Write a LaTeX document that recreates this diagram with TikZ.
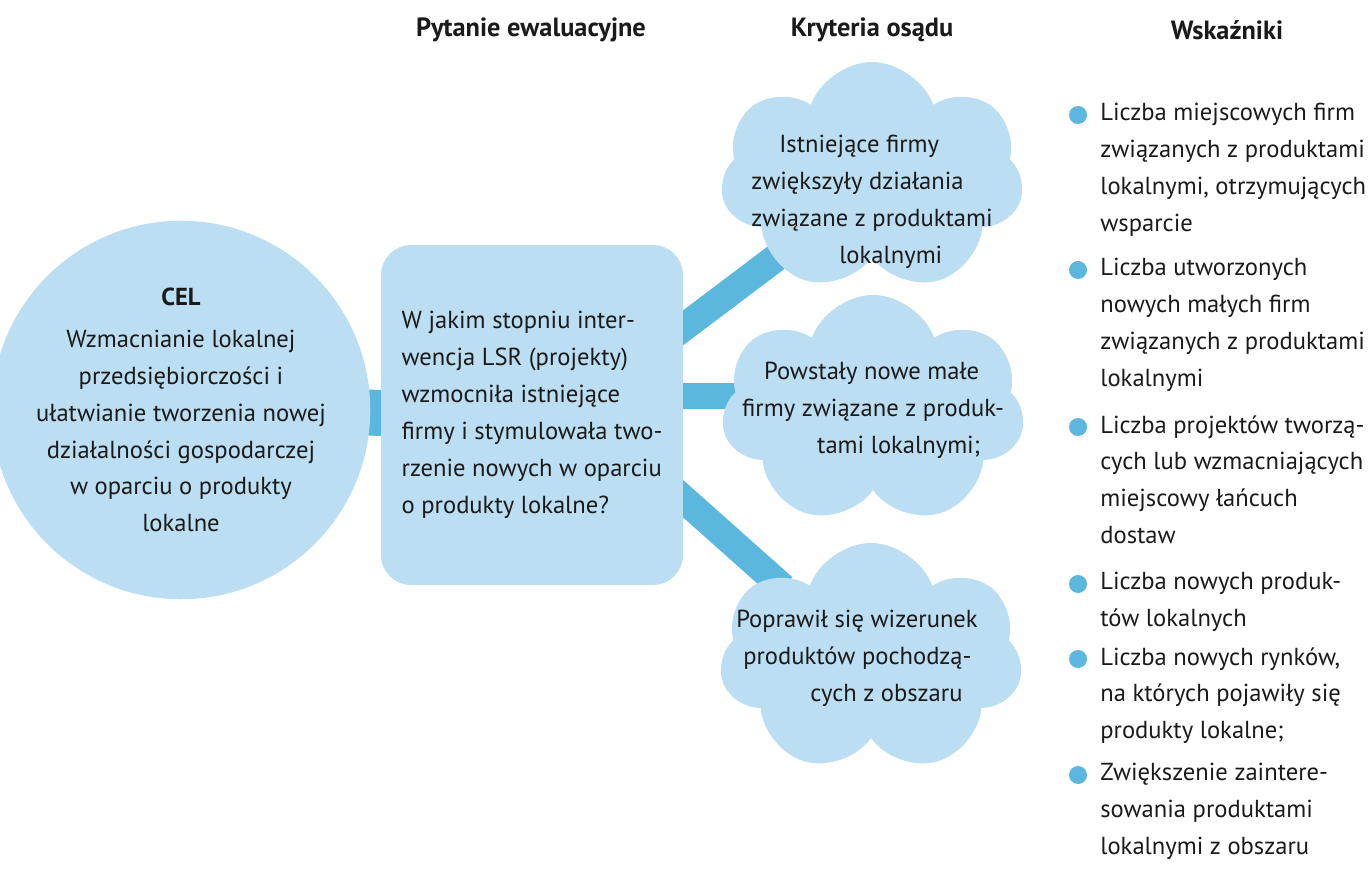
\documentclass[tikz,border=0pt]{standalone}
\usepackage{fontspec}
\setmainfont{PT Sans}
\usetikzlibrary{shapes.symbols,backgrounds}

\definecolor{paleblue}{HTML}{BBDEF2}
\definecolor{linkblue}{HTML}{5BB7DE}
\definecolor{inktext}{HTML}{1A1A1A}

\tikzset{
  goal/.style={circle, fill=paleblue, minimum size=6.8cm, inner sep=0pt, align=center},
  question/.style={rectangle, rounded corners=0.6cm, fill=paleblue, minimum width=6.04cm, minimum height=6.8cm, align=left, inner sep=0pt},
  criterion/.style={cloud, cloud puffs=7, cloud puff arc=140, fill=paleblue, minimum width=6.06cm, minimum height=4.6cm, inner sep=0pt},
  crittext/.style={align=left, inner sep=0pt},
  link/.style={linkblue, line width=#1, shorten <=-0.3cm, shorten >=-0.3cm},
  heading/.style={font=\bfseries\fontsize{15}{18}\selectfont},
  bullet/.style={circle, fill=linkblue, minimum size=0.36cm, inner sep=0pt},
  indicator/.style={anchor=north west, align=left, inner sep=0pt}
}

\begin{document}
\begin{tikzpicture}[x=0.02cm, y=-0.02cm, font=\fontsize{14}{21}\selectfont, text=inktext]
  \useasboundingbox (0,0) rectangle (1372,871);

  % column headings
  \node[heading] (h1) at (531,30) {Pytanie ewaluacyjne};
  \node[heading] (h2) at (872,30) {Kryteria osądu};
  \node[heading] (h3) at (1227,30) {Wskaźniki};

  % goal and question
  \node[goal] (cel) at (181,410) {\textbf{CEL}\\[0.1cm]
    Wzmacnianie lokalnej\\ przedsiębiorczości i\\ ułatwianie tworzenia nowej\\
    działalności gospodarczej\\ w oparciu o produkty\\ lokalne};
  \node[question] (pyt) at (532,415) {W jakim stopniu inter-\\ wencja LSR (projekty)\\
    wzmocniła istniejące\\ firmy i stymulowała two-\\ rzenie nowych w oparciu\\
    o produkty lokalne?};

  % criteria clouds
  \node[criterion] (crit1) at (872,177) {};
  \node[criterion] (crit2) at (873,410) {};
  \node[criterion] (crit3) at (871,658) {};
  \node[crittext] (t1) at ([yshift=-0.5cm]crit1.center) {\hspace*{0.56cm}Istniejące firmy\\
    zwiększyły działania\\ związane z produktami\\ \hspace*{1.76cm}lokalnymi};
  \node[crittext] (t2) at (crit2.center) {\hspace*{0.44cm}Powstały nowe małe\\
    firmy związane z produk-\\ \hspace*{1.5cm}tami lokalnymi;};
  \node[crittext] (t3) at ([xshift=-0.28cm]crit3.center) {Poprawił się wizerunek\\
    \hspace*{0.14cm}produktów pochodzą-\\ \hspace*{1.48cm}cych z obszaru};

  % connectors behind the shapes
  \begin{scope}[on background layer]
    \draw[link=0.92cm] (cel) -- (pyt);
    \draw[link=0.56cm] (pyt.30) -- (crit1.220);
    \draw[link=0.52cm] (pyt.7) -- (pyt.7 -| crit2.west);
    \draw[link=0.56cm] (pyt.-29) -- (crit3.141);
  \end{scope}

  % indicators
  \node[bullet] (d1) at (1078,115) {};
  \node[indicator] (w1) at (1100,103) {Liczba miejscowych firm\\ związanych z produktami\\
    lokalnymi, otrzymujących\\ wsparcie};
  \node[bullet] (d2) at (1078,270) {};
  \node[indicator] (w2) at (1100,258) {Liczba utworzonych\\ nowych małych firm\\
    związanych z produktami\\ lokalnymi};
  \node[bullet] (d3) at (1078,427) {};
  \node[indicator] (w3) at (1100,415) {Liczba projektów tworzą-\\ cych lub wzmacniających\\
    miejscowy łańcuch\\ dostaw};
  \node[bullet] (d4) at (1078,584) {};
  \node[indicator] (w4) at (1100,572) {Liczba nowych produk-\\ tów lokalnych};
  \node[bullet] (d5) at (1078,659) {};
  \node[indicator] (w5) at (1100,647) {Liczba nowych rynków,\\ na których pojawiły się\\
    produkty lokalne;};
  \node[bullet] (d6) at (1078,775) {};
  \node[indicator] (w6) at (1100,763) {Zwiększenie zaintere-\\ sowania produktami\\
    lokalnymi z obszaru};
\end{tikzpicture}
\end{document}
